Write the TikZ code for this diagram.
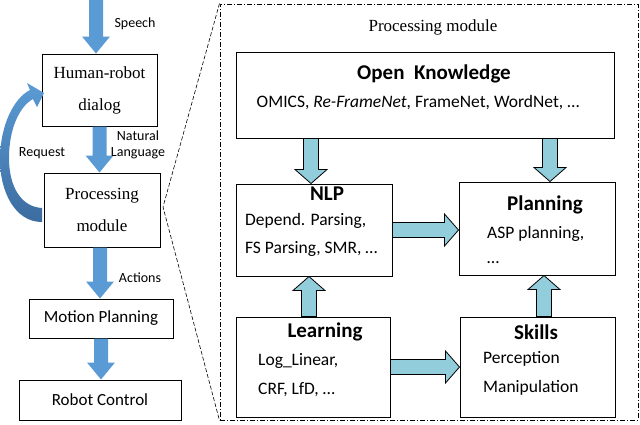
\documentclass[tikz,border=0pt]{standalone}
\usepackage{fontspec}
\setmainfont{Liberation Serif}
\setsansfont{Carlito}
\usetikzlibrary{calc}
\definecolor{steel}{RGB}{91,155,213}
\definecolor{steeldark}{RGB}{60,108,160}
\definecolor{aqua}{RGB}{146,205,220}
% block arrow from #2 to #3
\newcommand{\fasw}{7pt}
\newcommand{\fahw}{14pt}
\newcommand{\fahl}{17pt}
\newcommand{\fatarrow}[3][]{%
  \coordinate (fa s) at #2;
  \coordinate (fa t) at #3;
  \coordinate (fa h) at ($(fa t)!\fahl!(fa s)$);
  \path[#1] ($(fa s)!\fasw!90:(fa t)$) -- ($(fa h)!\fasw!90:(fa t)$)
    -- ($(fa h)!\fahw!90:(fa t)$) -- (fa t) -- ($(fa h)!\fahw!-90:(fa t)$)
    -- ($(fa h)!\fasw!-90:(fa t)$) -- ($(fa s)!\fasw!-90:(fa t)$) -- cycle;}

\begin{document}
\begin{tikzpicture}[x=1pt,y=-1pt,
  box/.style={draw, line width=1pt, inner sep=0pt},
  serif/.style={font=\rmfamily\fontsize{17}{32}\selectfont, align=center},
  sans/.style={font=\sffamily\fontsize{17}{20}\selectfont, align=center},
  lbl/.style={font=\sffamily\fontsize{14}{16}\selectfont, inner sep=0pt, align=center},
  head/.style={font=\sffamily\bfseries\fontsize{21}{24}\selectfont, inner sep=0pt},
  body/.style={font=\sffamily\fontsize{17.5}{20}\selectfont, inner sep=0pt},
  leftarrow/.style={fill=steel},
  rightarrow/.style={fill=aqua, draw=black, line width=0.8pt},
  panelframe/.style={draw, line width=1pt, dash pattern=on 5pt off 2pt on 1pt off 2pt, inner sep=0pt},
  zoomline/.style={line width=0.6pt, dash pattern=on 4pt off 2pt}]
\useasboundingbox (0,0) rectangle (640,424);

% left column
\node[box, serif, minimum width=115, minimum height=72] (hrd) at (99.5,90) {Human-robot\\dialog};
\node[box, serif, minimum width=116, minimum height=74] (proc) at (102,210) {Processing\\module};
\node[box, sans, minimum width=144, minimum height=39] (motion) at (101,318.5) {Motion Planning};
\node[box, sans, minimum width=162, minimum height=40] (robot) at (100,400) {Robot Control};

\coordinate (voice) at (96,0);
\coordinate (act) at ([xshift=-2pt]proc.south);
\fatarrow[leftarrow]{(voice)}{(voice |- hrd.north)}
\fatarrow[leftarrow]{(hrd.south)}{(hrd.south |- proc.north)}
\fatarrow[leftarrow]{(act)}{(act |- motion.north)}
\fatarrow[leftarrow]{(motion.south)}{(motion.south |- robot.north)}

\node[lbl] (speech) at (135,24) {Speech};
\node[lbl] (natlang) at (138,145) {Natural\\Language};
\node[lbl] (request) at (42,153) {Request};
\node[lbl] (actions) at (140,278) {Actions};

% request loop
\shade[top color=steel, bottom color=steeldark]
  (42,222) .. controls (14,222) and (0,190) .. (0,160)
  .. controls (0,125) and (14,98) .. (30,90) -- (27,83) -- (44,93) -- (37,107) -- (33,99)
  .. controls (20,106) and (9,128) .. (9,158)
  .. controls (9,188) and (22,207) .. (42,208) -- cycle;

% processing module panel
\node[panelframe, minimum width=418, minimum height=416] (panel) at (429,212) {};
\coordinate (focus) at (163,207);
\draw[zoomline] (panel.north west) -- (focus) -- (panel.south west);
\node[serif] (paneltitle) at (433,27) {Processing module};

\node[box, minimum width=378, minimum height=86] (ok) at (425,95) {};
\node[head] (okT) at (434,74) {Open~~Knowledge};
\node[body] (okL) at (418,103) {OMICS, \textit{Re-FrameNet}, FrameNet, WordNet, …};

\node[box, minimum width=156, minimum height=92] (nlp) at (314,230) {};
\node[head] (nlpT) at (327,194) {NLP};
\node[body, anchor=west] (nlpA) at (245,221) {Depend. Parsing,};
\node[body, anchor=west] (nlpB) at (245,249) {FS Parsing, SMR, …};

\node[box, minimum width=156, minimum height=93] (plan) at (537,228.5) {};
\node[head] (planT) at (545,205) {Planning};
\node[body, anchor=west] (planA) at (487,234) {ASP planning,};
\node[body, anchor=west] (planB) at (487,263) {…};

\node[box, minimum width=154, minimum height=100] (learn) at (313,367) {};
\node[head] (learnT) at (325,332) {Learning};
\node[body, anchor=west] (learnA) at (258,361) {Log\_Linear,};
\node[body, anchor=west] (learnB) at (258,390) {CRF, LfD, …};

\node[box, minimum width=155, minimum height=100] (skill) at (537.5,367) {};
\node[head] (skillT) at (536,332) {Skills};
\node[body, anchor=west] (skillA) at (483,359) {Perception};
\node[body, anchor=west] (skillB) at (483,388) {Manipulation};

\begin{scope}
\renewcommand{\fasw}{7.5pt}
\renewcommand{\fahw}{16pt}
\renewcommand{\fahl}{14pt}
\coordinate (a1) at ([xshift=-3pt]nlp.north);
\coordinate (a2) at ([xshift=13pt]plan.north);
\coordinate (a4) at ([xshift=-4pt]learn.north);
\coordinate (a6) at ([xshift=7pt]plan.south);
\fatarrow[rightarrow]{(a1 |- ok.south)}{(a1)}
\fatarrow[rightarrow]{(a2 |- ok.south)}{(a2)}
\fatarrow[rightarrow]{(nlp.east)}{(nlp.east -| plan.west)}
\fatarrow[rightarrow]{(a4)}{(a4 |- nlp.south)}
\fatarrow[rightarrow]{(learn.east)}{(learn.east -| skill.west)}
\fatarrow[rightarrow]{(a6 |- skill.north)}{(a6)}
\end{scope}
\end{tikzpicture}
\end{document}
